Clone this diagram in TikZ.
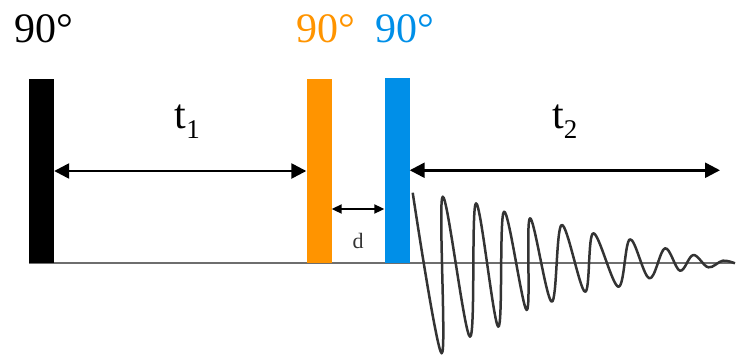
\documentclass[tikz,border=0pt]{standalone}
\usepackage{fontspec}
\setmainfont{Liberation Serif}
\usetikzlibrary{positioning, arrows.meta, backgrounds}
\definecolor{pulseorange}{RGB}{255,148,0}
\definecolor{pulseblue}{RGB}{0,143,232}
\definecolor{fidgray}{RGB}{51,51,51}
\definecolor{axisgray}{RGB}{110,110,110}
\newcommand{\lowidx}[1]{\raisebox{-10pt}{\fontsize{27}{30}\selectfont #1}}

\begin{document}
\begin{tikzpicture}[x=1pt, y=-1pt,
    pulse/.style={rectangle, minimum width=25pt, minimum height=184pt, inner sep=0pt},
    flip/.style={inner sep=0pt, font=\fontsize{42}{48}\selectfont},
    tlabel/.style={inner sep=0pt, font=\fontsize{42}{48}\selectfont},
    span/.style={{Triangle[length=15pt, width=15pt]}-{Triangle[length=15pt, width=15pt]}, line width=2.5pt},
    gap/.style={{Triangle[length=10pt, width=9pt]}-{Triangle[length=10pt, width=9pt]}, line width=2pt},
    axis/.style={axisgray, line width=2pt},
    fid/.style={fidgray, line width=2.5pt, line join=round},
]
\useasboundingbox (0,0) rectangle (736,356);

% Pulses
\node[pulse, fill=black] (p1) at (41.5,171) {};
\node[pulse, fill=pulseorange] (p2) at (319,171) {};
\node[pulse, fill=pulseblue, minimum height=185.5pt] (p3) at (397,170.25) {};

% Flip angles
\node[flip, above=36pt of p1, xshift=2.5pt] (a1) {90°};
\node[flip, above=36pt of p2, xshift=7pt, text=pulseorange] (a2) {90°};
\node[flip, above=34.5pt of p3, xshift=8pt, text=pulseblue] (a3) {90°};

% Time line
\coordinate (axend) at (735,263);
\coordinate (t2end) at (720,172);
\begin{scope}[on background layer]
\draw[axis] (p1.south west) -- (p1.south west -| axend);
\end{scope}

% Delays
\draw[span] (p1.east) -- node[tlabel, above=31pt, xshift=7pt]{t\lowidx{1}} (p2.west);
\draw[span] (p3.east) -- node[tlabel, above=31pt]{t\lowidx{2}} (p3.east -| t2end);
\draw[gap] ([yshift=-38pt]p2.east) -- node[below=23pt, inner sep=0pt, text=fidgray, font=\fontsize{22}{26}\selectfont]{d} ([yshift=-38pt]p2.east -| p3.west);

% FID
\draw[fid] plot[smooth, tension=0.6] coordinates {
  (412.7,192.7) (441.7,353.3) (442.7,196.7) (470,336.7) (476,203.3)
  (498.3,326.7) (504,211.7) (526.7,310) (530,218.3) (551.7,301.7)
  (561.7,225) (585,291.7) (593.3,233.3) (618.3,286.7) (630,239.3)
  (649.3,278.3) (665,248.3) (680,270.7) (693.3,255) (708.3,267.3)
  (722.7,260.7) (735,263.3)};

\end{tikzpicture}
\end{document}
